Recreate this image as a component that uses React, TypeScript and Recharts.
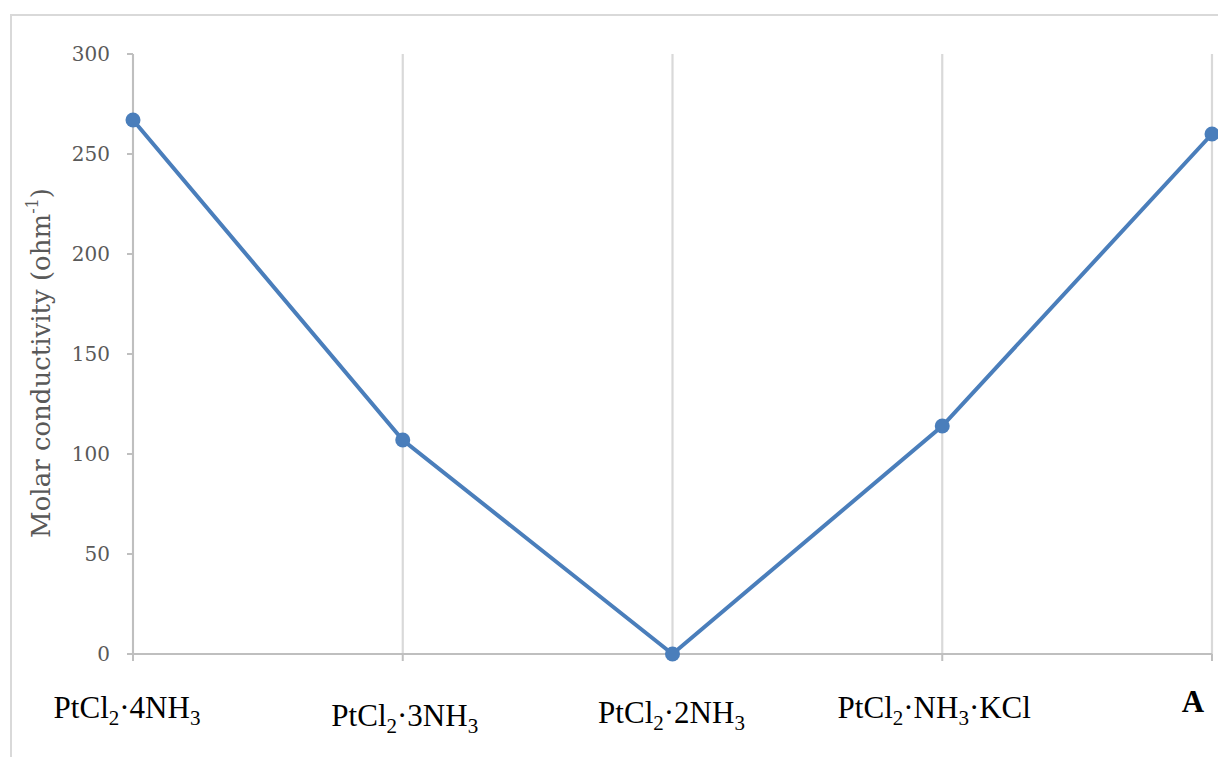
import React from "react";
import { LineChart, Line, XAxis, YAxis, CartesianGrid } from "recharts";

const categories = ["PtCl2·4NH3", "PtCl2·3NH3", "PtCl2·2NH3", "PtCl2·NH3·KCl", "A"];
const conductivity = [267, 107, 0, 114, 260];
const yTicks = [0, 50, 100, 150, 200, 250, 300];
const yLabelMain = "Molar conductivity (ohm";
const yLabelSup = "-1";
const yLabelEnd = ")";

const data = categories.map((c, i) => ({ name: c, value: conductivity[i] }));

// visual nudges for the text boxes under the axis (not data)
const tickNudgeX = [-6, 2, -1, -8, -19];
const tickNudgeY = [0, 8, 5, 0, -6];

function splitFormula(s: string) {
  const parts: { t: string; sub: boolean }[] = [];
  for (let i = 0; i < s.length; i++) {
    const ch = s[i];
    const isSub = /[0-9]/.test(ch) && i > 0 && /[A-Za-z]/.test(s[i - 1]);
    const last = parts[parts.length - 1];
    if (last && last.sub === isSub) last.t += ch;
    else parts.push({ t: ch, sub: isSub });
  }
  return parts;
}

const FS = 31;
const SUBFS = 21;
const SUBDY = 7;

function XTick(props: any) {
  const { x, payload, index } = props;
  const label: string = payload.value;
  const parts = splitFormula(label);
  const bold = label === "A";
  const nodes: any[] = [];
  let shifted = false;
  parts.forEach((p, k) => {
    let dy = 0;
    if (p.sub && !shifted) { dy = SUBDY; shifted = true; }
    else if (!p.sub && shifted) { dy = -SUBDY; shifted = false; }
    nodes.push(
      <tspan key={k} dy={dy} fontSize={p.sub ? SUBFS : FS}>{p.t}</tspan>
    );
  });
  return (
    <text
      x={x + (tickNudgeX[index] || 0)}
      y={718 + (tickNudgeY[index] || 0)}
      textAnchor="middle"
      fontFamily="'Liberation Serif', 'Times New Roman', serif"
      fontSize={FS}
      fontWeight={bold ? "bold" : "normal"}
      fill="#000"
    >
      {nodes}
    </text>
  );
}

function YLabel(props: any) {
  const { viewBox } = props;
  const cx = 41;
  const cy = viewBox.y + viewBox.height / 2 + 9;
  return (
    <text
      x={cx}
      y={cy}
      transform={`rotate(-90, ${cx}, ${cy})`}
      textAnchor="middle"
      dominantBaseline="central"
      fontFamily="'DejaVu Serif', serif"
      fontSize={26}
      fill="#595959"
    >
      <tspan>{yLabelMain}</tspan>
      <tspan dy={-9} fontSize={16}>{yLabelSup}</tspan>
      <tspan dy={9}>{yLabelEnd}</tspan>
    </text>
  );
}

export default function App() {
  return (
    <div style={{ position: "relative", width: 1226, height: 765, margin: -8, overflow: "hidden", background: "#fff" }}>
      <div
        style={{
          position: "absolute",
          left: 10,
          top: 14,
          width: 1240,
          height: 800,
          border: "2px solid #d9d9d9",
          boxSizing: "border-box",
        }}
      />
      <div style={{ position: "absolute", left: 0, top: 0 }}>
        <LineChart
          width={1226}
          height={765}
          data={data}
          margin={{ top: 54, right: 14, bottom: 0, left: 0 }}
        >
          <CartesianGrid vertical={true} horizontal={false} stroke="#d9d9d9" strokeWidth={2.2} />
          <XAxis
            dataKey="name"
            interval={0}
            height={111}
            axisLine={{ stroke: "#bfbfbf", strokeWidth: 2 }}
            tickLine={{ stroke: "#bfbfbf", strokeWidth: 2 }}
            tickSize={7}
            tick={<XTick />}
          />
          <YAxis
            width={133}
            domain={[0, 300]}
            ticks={yTicks}
            interval={0}
            axisLine={{ stroke: "#bfbfbf", strokeWidth: 2 }}
            tickLine={{ stroke: "#bfbfbf", strokeWidth: 2 }}
            tickSize={6}
            tickMargin={17}
            tick={{ fill: "#595959", fontSize: 20, fontFamily: "'DejaVu Serif', serif" }}
            label={<YLabel />}
          />
          <Line
            type="linear"
            dataKey="value"
            stroke="#4a7ebb"
            strokeWidth={4}
            dot={{ r: 7.5, fill: "#4a7ebb", stroke: "#4a7ebb", strokeWidth: 0 }}
            isAnimationActive={false}
          />
        </LineChart>
      </div>
    </div>
  );
}
